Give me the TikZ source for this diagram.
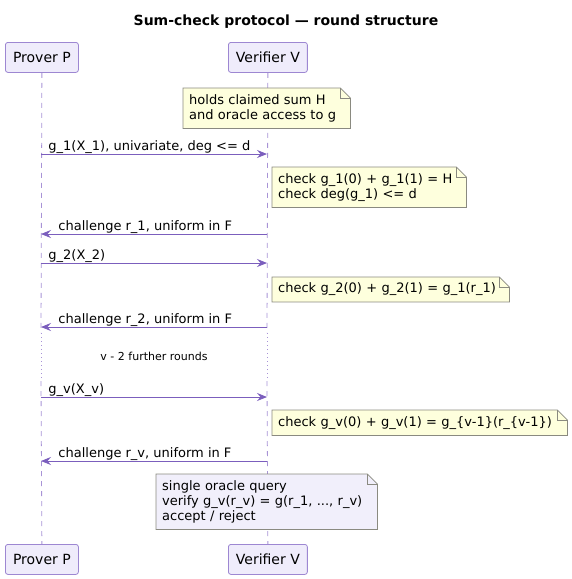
\documentclass[tikz,border=0pt]{standalone}
\usepackage{fontspec}
\setmainfont{DejaVu Sans}
\usetikzlibrary{arrows.meta,backgrounds}
\definecolor{partfill}{HTML}{EFECFB}
\definecolor{partdraw}{HTML}{9D87D2}
\definecolor{lifecol}{HTML}{A893D6}
\definecolor{msgcol}{HTML}{7B5EBD}
\definecolor{notefill}{HTML}{FEFFDD}
\definecolor{notefill2}{HTML}{F1EFFB}
\definecolor{notedraw}{HTML}{8A8A80}
\newcommand\msgfont{\fontsize{13}{15}\selectfont}
\newcommand\dogear[2]{%
  \begin{pgfonlayer}{background}
    \filldraw[notedraw, fill=#2] (#1.north west) -- ([xshift=-10pt]#1.north east) -- ([yshift=-10pt]#1.north east) -- (#1.south east) -- (#1.south west) -- cycle;
    \draw[notedraw] ([xshift=-10pt]#1.north east) -- ([shift={(-10pt,-10pt)}]#1.north east) -- ([yshift=-10pt]#1.north east);
  \end{pgfonlayer}}
\tikzset{
  participant/.style={draw=partdraw, fill=partfill, rounded corners=2.5pt, line width=0.8pt,
    minimum height=30pt, inner xsep=7.5pt, font=\fontsize{14}{16}\selectfont, anchor=north west},
  lifeline/.style={draw=lifecol, line width=0.8pt, dash pattern=on 5pt off 5pt},
  lifedot/.style={draw=lifecol, line width=0.8pt, dash pattern=on 1pt off 3pt},
  msg/.style={draw=msgcol, line width=0.9pt, -{Stealth[length=10pt,width=8pt,inset=3.5pt]}},
  lbl/.style={font=\msgfont, anchor=base west, inner sep=0pt, text=black},
  note/.style={anchor=north west, inner xsep=6pt, inner ysep=0pt, align=left, font=\msgfont},
  notedraw/.style={draw=notedraw, line width=0.8pt},
}
\begin{document}
\begin{tikzpicture}[x=1pt,y=-1pt]
\useasboundingbox (0,0) rectangle (572,579);
\node[font=\bfseries\fontsize{14}{16}\selectfont] (title) at (286,22) {Sum-check protocol — round structure};
% participants
\node[participant, minimum width=73pt] (Ptop) at (5,42) {Prover P};
\node[participant, minimum width=78pt] (Vtop) at (228,42) {Verifier V};
\node[participant, minimum width=73pt] (Pbot) at (5,544) {Prover P};
\node[participant, minimum width=78pt] (Vbot) at (228,544) {Verifier V};
% lifeline coordinates
\coordinate (Pd1) at (41,333); \coordinate (Pd2) at (41,381);
\coordinate (Vd1) at (267,333); \coordinate (Vd2) at (267,381);
\begin{pgfonlayer}{background}
\draw[lifeline] (Ptop.south) -- (Pd1);
\draw[lifedot] (Pd1) -- (Pd2);
\draw[lifeline] (Pd2) -- (Pbot.north);
\draw[lifeline] (Vtop.south) -- (Vd1);
\draw[lifedot] (Vd1) -- (Vd2);
\draw[lifeline] (Vd2) -- (Vbot.north);
\end{pgfonlayer}
% message anchor points
\coordinate (p1) at (41,154); \coordinate (v1) at (267,154);
\coordinate (p2) at (41,234); \coordinate (v2) at (267,234);
\coordinate (p3) at (41,263); \coordinate (v3) at (267,263);
\coordinate (p4) at (41,327); \coordinate (v4) at (267,327);
\coordinate (p5) at (41,397); \coordinate (v5) at (267,397);
\coordinate (p6) at (41,461); \coordinate (v6) at (267,461);
% note 1
\node[note, minimum width=167pt, text width=155pt, minimum height=40pt] (n1) at (183,88) {holds claimed sum H\\and oracle access to g};
\dogear{n1}{notefill}
\draw[msg] (p1) -- (v1) node[lbl, pos=0, xshift=7pt, yshift=4pt] {g\_1(X\_1), univariate, deg <= d};
\node[note, minimum width=194pt, text width=182pt, minimum height=40pt] (n2) at (272,167) {check g\_1(0) + g\_1(1) = H\\check deg(g\_1) <= d};
\dogear{n2}{notefill}
\draw[msg] (v2) -- (p2) node[lbl, pos=1, xshift=17pt, yshift=4pt] {challenge r\_1, uniform in F};
\draw[msg] (p3) -- (v3) node[lbl, pos=0, xshift=7pt, yshift=4pt] {g\_2(X\_2)};
\node[note, minimum width=237pt, text width=225pt, minimum height=24.5pt] (n3) at (272,277) {check g\_2(0) + g\_2(1) = g\_1(r\_1)};
\dogear{n3}{notefill}
\draw[msg] (v4) -- (p4) node[lbl, pos=1, xshift=17pt, yshift=4pt] {challenge r\_2, uniform in F};
\node[font=\fontsize{11}{13}\selectfont, inner sep=0pt] (delay) at (154,356) {v - 2 further rounds};
\draw[msg] (p5) -- (v5) node[lbl, pos=0, xshift=7pt, yshift=4pt] {g\_v(X\_v)};
\node[note, minimum width=295pt, text width=283pt, minimum height=25pt] (n4) at (272,410) {check g\_v(0) + g\_v(1) = g\_\{v-1\}(r\_\{v-1\})};
\dogear{n4}{notefill}
\draw[msg] (v6) -- (p6) node[lbl, pos=1, xshift=17pt, yshift=4pt] {challenge r\_v, uniform in F};
\node[note, minimum width=221pt, text width=209pt, minimum height=55pt] (n5) at (156,474) {single oracle query\\verify g\_v(r\_v) = g(r\_1, ..., r\_v)\\accept / reject};
\dogear{n5}{notefill2}
\end{tikzpicture}
\end{document}
